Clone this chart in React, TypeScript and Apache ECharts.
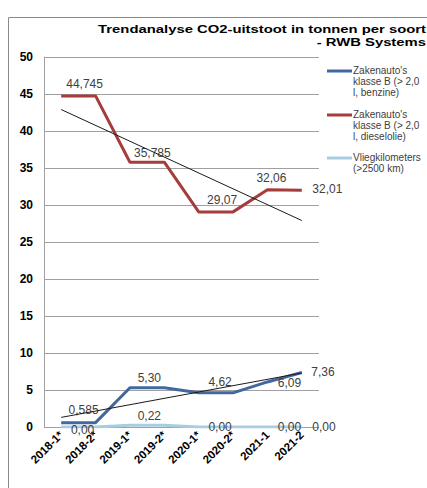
import React, { useEffect, useRef } from "react";
import * as echarts from "echarts";

const categories = ["2018-1*", "2018-2*", "2019-1*", "2019-2*", "2020-1*", "2020-2*", "2021-1", "2021-2"];
const benzine = [0.585, 0.585, 5.3, 5.3, 4.62, 4.62, 6.09, 7.36];
const diesel = [44.745, 44.745, 35.785, 35.785, 29.07, 29.07, 32.06, 32.01];
const vlieg = [0, 0, 0.22, 0.22, 0, 0, 0, 0];
const trendDiesel = [42.9, null, null, null, null, null, null, 27.9];
const trendBenzine = [1.3, null, null, null, null, null, null, 7.3];
const yTicks = [0, 5, 10, 15, 20, 25, 30, 35, 40, 45, 50];
const titleLines = ["Trendanalyse CO2-uitstoot in tonnen per soort", "- RWB Systems"];
const legendNames = [
  ["Zakenauto's", "klasse B (> 2,0", "l, benzine)"],
  ["Zakenauto's", "klasse B (> 2,0", "l, dieselolie)"],
  ["Vliegkilometers", "(>2500 km)"],
];

const BLUE = "#41689f";
const RED = "#a63c3b";
const LIGHT = "#a8cde3";
const FONT = "Liberation Sans, Arial, sans-serif";

function fmt(v: number) {
  const s = String(v);
  const d = Math.max(2, (s.split(".")[1] || "").length);
  return v.toFixed(d).replace(".", ",");
}

const lblBase = {
  show: true,
  fontFamily: FONT,
  fontSize: 12,
  color: "#404040",
  formatter: (p: any) => fmt(p.value),
};

function withLabels(values: number[], labels: Record<number, any>) {
  return values.map((v, i) =>
    labels[i] ? { value: v, label: { ...lblBase, ...labels[i] } } : { value: v }
  );
}

const hiddenSymbol = {
  symbol: "circle",
  symbolSize: 1,
  showSymbol: true,
  itemStyle: { color: "rgba(0,0,0,0)", borderWidth: 0 },
};

export default function App() {
  const ref = useRef<HTMLDivElement>(null);
  useEffect(() => {
    const chart = echarts.init(ref.current!, null, { renderer: "svg" });
    const legendGraphics: any[] = [];
    const legendColors = [BLUE, RED, LIGHT];
    const legendTops = [71, 115, 158];
    legendNames.forEach((lines, k) => {
      legendGraphics.push({
        type: "line",
        shape: { x1: 327, y1: legendTops[k], x2: 352, y2: legendTops[k] },
        style: { stroke: legendColors[k], lineWidth: 3 },
      });
      legendGraphics.push({
        type: "text",
        x: 353,
        y: legendTops[k] - 6,
        style: {
          text: lines.join("\n"),
          fontFamily: FONT,
          fontSize: 10,
          lineHeight: 11,
          fill: "#404040",
        },
      });
    });
    const titleGraphics = titleLines.map((t, i) => ({
      type: "text",
      x: 426,
      y: 29 + i * 13,
      scaleX: 1.29,
      style: {
        text: t,
        align: "right",
        verticalAlign: "middle",
        fontFamily: FONT,
        fontWeight: "bold",
        fontSize: 11.5,
        fill: "#000",
      },
    }));
    chart.setOption({
      animation: false,
      backgroundColor: "#ffffff",
      grid: { left: 44, top: 57, right: 108, bottom: 61 },
      graphic: [
        {
          type: "rect",
          shape: { x: 8.5, y: 17.5, width: 600, height: 600 },
          style: { fill: "none", stroke: "#8a8a8a", lineWidth: 1 },
          silent: true,
        },
        ...titleGraphics,
        ...legendGraphics,
      ],
      xAxis: {
        type: "category",
        data: categories,
        boundaryGap: true,
        axisLine: { show: false },
        axisTick: { show: false },
        axisLabel: {
          rotate: 45,
          interval: 0,
          margin: 6,
          fontFamily: FONT,
          fontWeight: "bold",
          fontSize: 11.5,
          color: "#000",
        },
      },
      yAxis: {
        type: "value",
        min: yTicks[0],
        max: yTicks[yTicks.length - 1],
        interval: 5,
        axisLine: { show: true, lineStyle: { color: "#a0a0a0", width: 1 } },
        axisTick: { show: false },
        splitLine: { lineStyle: { color: "#a0a0a0", width: 1 } },
        axisLabel: {
          margin: 11,
          fontFamily: FONT,
          fontWeight: "bold",
          fontSize: 12,
          color: "#000",
        },
      },
      series: [
        {
          name: "benzine",
          type: "line",
          ...hiddenSymbol,
          lineStyle: { color: BLUE, width: 3 },
          z: 3,
          data: withLabels(benzine, {
            1: { position: "top", offset: [-12, 0], distance: 6 },
            3: { position: "top", offset: [-15, 0], distance: 3 },
            5: { position: "top", offset: [-13, 0], distance: 4 },
            6: { position: "inside", offset: [22, 1] },
            7: { position: "right", offset: [0, -1], distance: 9 },
          }),
        },
        {
          name: "dieselolie",
          type: "line",
          ...hiddenSymbol,
          lineStyle: { color: RED, width: 3 },
          z: 3,
          data: withLabels(diesel, {
            1: { position: "top", offset: [-11, 0], distance: 5 },
            3: { position: "top", offset: [-12, 0], distance: 3 },
            5: { position: "top", offset: [-11, 0], distance: 5 },
            6: { position: "top", offset: [4, 0], distance: 5 },
            7: { position: "right", offset: [0, -1], distance: 10 },
          }),
        },
        {
          name: "vlieg",
          type: "line",
          ...hiddenSymbol,
          lineStyle: { color: LIGHT, width: 3 },
          z: 2,
          data: withLabels(vlieg, {
            1: { position: "bottom", offset: [-13, 0], distance: -4 },
            3: { position: "top", offset: [-15, 0], distance: 3 },
            5: { position: "inside", offset: [-13, 0] },
            6: { position: "inside", offset: [22, 0] },
            7: { position: "right", offset: [0, 0], distance: 10 },
          }),
        },
        {
          name: "trendDiesel",
          type: "line",
          symbol: "none",
          connectNulls: true,
          lineStyle: { color: "#1a1a1a", width: 1 },
          z: 4,
          data: trendDiesel,
        },
        {
          name: "trendBenzine",
          type: "line",
          symbol: "none",
          connectNulls: true,
          lineStyle: { color: "#1a1a1a", width: 1 },
          z: 4,
          data: trendBenzine,
        },
      ],
    });
    return () => chart.dispose();
  }, []);
  return (
    <div
      ref={ref}
      style={{ position: "fixed", left: 0, top: 0, width: 427, height: 488 }}
    />
  );
}
